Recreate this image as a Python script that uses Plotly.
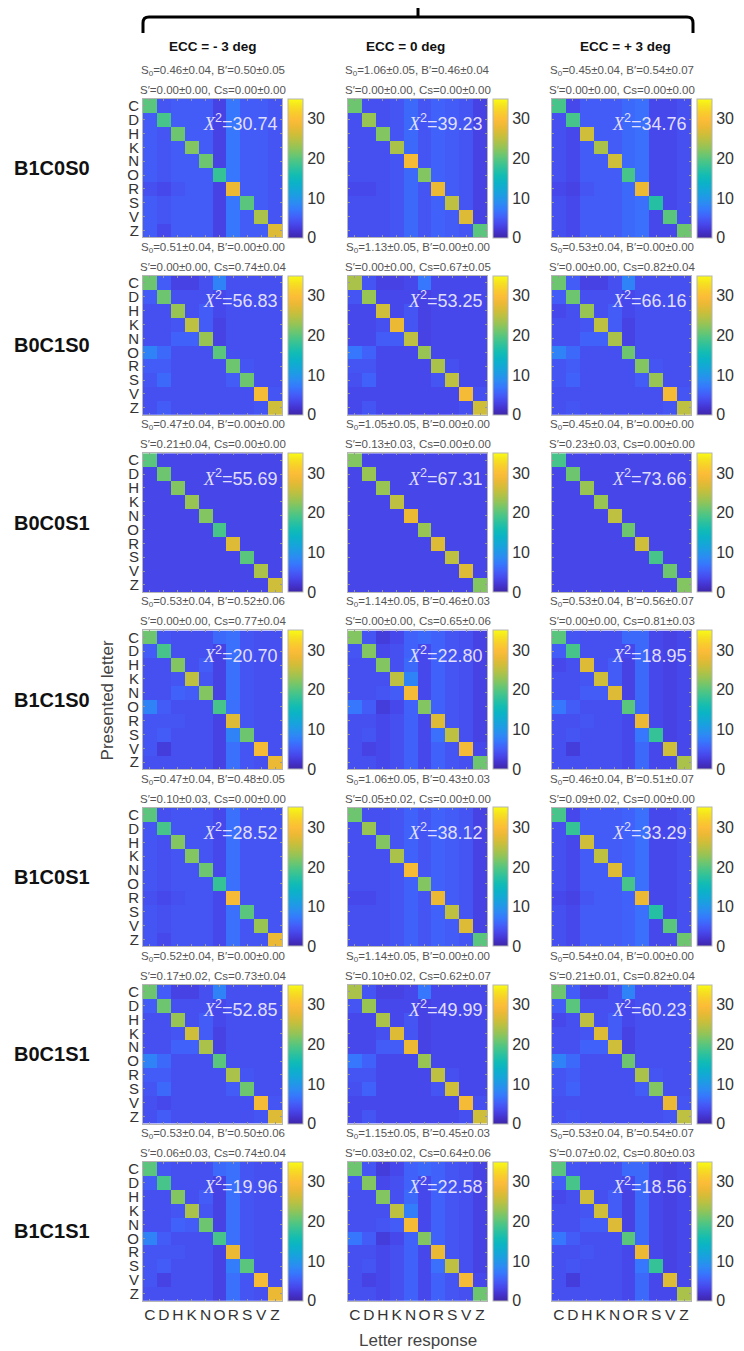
import plotly.graph_objects as go

W, H = 744, 1351
OFF = 8  # page body margin
FW, FH = W - OFF, H - OFF

letters = ["C", "D", "H", "K", "N", "O", "R", "S", "V", "Z"]
row_labels = ["B1C0S0", "B0C1S0", "B0C0S1", "B1C1S0", "B1C0S1", "B0C1S1", "B1C1S1"]
col_titles = ["ECC = - 3 deg", "ECC = 0 deg", "ECC = + 3 deg"]

chi2 = [[30.74, 39.23, 34.76], [56.83, 53.25, 66.16], [55.69, 67.31, 73.66],
        [20.70, 22.80, 18.95], [28.52, 38.12, 33.29], [52.85, 49.99, 60.23],
        [19.96, 22.58, 18.56]]
S0 = [[0.46, 1.06, 0.45], [0.51, 1.13, 0.53], [0.47, 1.05, 0.45], [0.53, 1.14, 0.53],
      [0.47, 1.06, 0.46], [0.52, 1.14, 0.54], [0.53, 1.15, 0.53]]
S0_err = [[0.04, 0.05, 0.04], [0.04, 0.05, 0.04], [0.04, 0.05, 0.04], [0.04, 0.05, 0.04],
          [0.04, 0.05, 0.04], [0.04, 0.05, 0.04], [0.04, 0.05, 0.04]]
Bp = [[0.50, 0.46, 0.54], [0.00, 0.00, 0.00], [0.00, 0.00, 0.00], [0.52, 0.46, 0.56],
      [0.48, 0.43, 0.51], [0.00, 0.00, 0.00], [0.50, 0.45, 0.54]]
Bp_err = [[0.05, 0.04, 0.07], [0.00, 0.00, 0.00], [0.00, 0.00, 0.00], [0.06, 0.03, 0.07],
          [0.05, 0.03, 0.07], [0.00, 0.00, 0.00], [0.06, 0.03, 0.07]]
Sp = [[0.00, 0.00, 0.00], [0.00, 0.00, 0.00], [0.21, 0.13, 0.23], [0.00, 0.00, 0.00],
      [0.10, 0.05, 0.09], [0.17, 0.10, 0.21], [0.06, 0.03, 0.07]]
Sp_err = [[0.00, 0.00, 0.00], [0.00, 0.00, 0.00], [0.04, 0.03, 0.03], [0.00, 0.00, 0.00],
          [0.03, 0.02, 0.02], [0.02, 0.02, 0.01], [0.03, 0.02, 0.02]]
Cs = [[0.00, 0.00, 0.00], [0.74, 0.67, 0.82], [0.00, 0.00, 0.00], [0.77, 0.65, 0.81],
      [0.00, 0.00, 0.00], [0.73, 0.62, 0.82], [0.74, 0.64, 0.80]]
Cs_err = [[0.00, 0.00, 0.00], [0.04, 0.05, 0.04], [0.00, 0.00, 0.00], [0.04, 0.06, 0.03],
          [0.00, 0.00, 0.00], [0.04, 0.07, 0.04], [0.04, 0.06, 0.03]]

# ---- confusion matrices (rows: presented letter, cols: letter response) ----
B1C0S0_m3 = [[20, 4.5, 5, 5, 5, 3, 7, 5, 5, 4.5],
             [5, 19, 5, 5, 5, 3, 7, 5, 5, 4.5],
             [5, 4.5, 21, 5, 5, 3, 7, 5, 5, 4.5],
             [5, 4.5, 5, 22, 5, 3, 7, 5, 5, 4.5],
             [5, 4.5, 5, 5, 21, 3, 7, 5, 5, 4.5],
             [5, 4.5, 5, 5, 5, 18, 7, 5, 5, 4.5],
             [4, 3.5, 4.5, 5, 5, 3, 28, 5, 5, 4.5],
             [5, 4.5, 5, 5, 5, 3, 7, 20, 5, 4.5],
             [5, 4.5, 5, 5, 5, 3, 7, 5, 24, 4.5],
             [5, 3.5, 5, 5, 5, 3, 7, 5, 5, 27]]
B1C0S0_0 = [[21, 4, 4, 4.5, 6, 4.5, 5.5, 5, 4.5, 3],
            [4, 23, 4, 4.5, 6, 4.5, 5.5, 5, 4.5, 3],
            [4, 4, 22, 4.5, 6, 4.5, 5.5, 5, 4.5, 3],
            [4, 4, 4, 24, 6, 4.5, 5.5, 5, 4.5, 3],
            [4, 4, 4, 4.5, 29, 4.5, 5.5, 5, 4.5, 3],
            [4, 4, 4, 4.5, 6, 22, 5.5, 5, 4.5, 3],
            [3.5, 3.5, 4, 4.5, 6, 4.5, 28, 5, 4.5, 3],
            [4, 4, 4, 4.5, 6, 4.5, 5.5, 25, 4.5, 3],
            [4, 4, 4, 4.5, 6, 4.5, 5.5, 5, 27, 3],
            [4, 4, 4, 4.5, 6, 4.5, 5.5, 5, 4.5, 20]]
B1C0S0_p3 = [[19, 3.5, 5, 5, 5, 6, 6.5, 3.5, 3.5, 4],
             [4, 19, 5, 5, 5, 6, 6.5, 3.5, 3.5, 4],
             [4, 3.5, 26, 5, 5, 6, 6.5, 3.5, 3.5, 4],
             [4, 3.5, 5, 24, 5, 6, 6.5, 3.5, 3.5, 4],
             [4, 3.5, 5, 5, 26, 6, 6.5, 3.5, 3.5, 4],
             [4, 3.5, 5, 5, 5, 19, 6.5, 3.5, 3.5, 4],
             [3.5, 3, 4.5, 5, 5, 6, 28, 3.5, 3.5, 4],
             [4, 3.5, 5, 5, 5, 6, 6.5, 17, 3.5, 4],
             [4, 3.5, 5, 5, 5, 6, 6.5, 3.5, 20, 4],
             [4, 3.5, 5, 5, 5, 6, 6.5, 3.5, 3.5, 21]]

B0C1S0_m3 = [[21, 5, 3, 3, 4, 8, 4, 4, 4, 4],
             [5, 21, 4, 4, 4, 3.5, 4, 4, 4, 4],
             [4, 4, 23, 4, 5, 3.5, 4, 4, 4, 4],
             [4, 4, 4.5, 25, 5, 3, 4, 4, 4, 4],
             [4, 4, 5.5, 5.5, 23, 3, 4, 4, 4, 4],
             [8, 6, 4, 4, 4, 20, 4, 4, 4, 4],
             [5, 5, 4, 4, 4, 4, 21, 4.5, 4, 4],
             [4.5, 6, 4, 4, 4, 4, 5, 21, 4, 4],
             [4, 4, 4, 4, 4, 4, 4, 4, 29, 4.5],
             [4, 5, 4, 4, 4, 4, 4, 4, 4.5, 26]]
B0C1S0_0 = [[24, 4.5, 3, 3, 3.5, 7, 3.5, 3.5, 3.5, 3.5],
            [4.5, 23, 3.5, 3.5, 3.5, 3, 3.5, 3.5, 3.5, 3.5],
            [3.5, 3.5, 26, 3.5, 4.5, 3, 3.5, 3.5, 3.5, 3.5],
            [3.5, 3.5, 4, 28, 4.5, 3, 3.5, 3.5, 3.5, 3.5],
            [3.5, 3.5, 5, 5, 25, 3, 3.5, 3.5, 3.5, 3.5],
            [7, 5.5, 3.5, 3.5, 3.5, 23, 3.5, 3.5, 3.5, 3.5],
            [4.5, 4.5, 3.5, 3.5, 3.5, 3.5, 24, 4, 3.5, 3.5],
            [4, 5.5, 3.5, 3.5, 3.5, 3.5, 4.5, 25, 3.5, 3.5],
            [3.5, 3.5, 3.5, 3.5, 3.5, 3.5, 3.5, 3.5, 29, 4],
            [3.5, 4.5, 3.5, 3.5, 3.5, 3.5, 3.5, 3.5, 4, 26]]
B0C1S0_p3 = [[21, 5, 3, 3, 4, 8, 4, 4, 4, 4],
             [5, 21, 4, 4, 4, 3.5, 4, 4, 4, 4],
             [3.5, 4, 23, 4, 5, 3.5, 4, 4, 4, 4],
             [4, 4, 4.5, 25, 5, 3, 4, 4, 4, 4],
             [4, 4, 5.5, 5.5, 24, 3, 4, 4, 4, 4],
             [8, 6, 4, 4, 4, 21, 4, 4, 4, 4],
             [4.5, 5, 4, 4, 4, 4, 22, 4.5, 4, 4],
             [4.5, 5.5, 4, 4, 4, 4, 5, 23, 4, 4],
             [4, 4, 4, 4, 4, 4, 4, 4, 29, 4.5],
             [4, 4.5, 4, 4, 4, 4, 4, 4, 4.5, 25]]

B0C0S1_m3 = [[20, 3.3, 3.3, 3.3, 3.3, 3.3, 3.3, 3.3, 3.3, 3.3],
             [3.3, 21, 3.3, 3.3, 3.3, 3.3, 3.3, 3.3, 3.3, 3.3],
             [3.3, 3.3, 22, 3.3, 3.3, 3.3, 3.3, 3.3, 3.3, 3.3],
             [3.3, 3.3, 3.3, 23, 3.3, 3.3, 3.3, 3.3, 3.3, 3.3],
             [3.3, 3.3, 3.3, 3.3, 22, 3.3, 3.3, 3.3, 3.3, 3.3],
             [3.3, 3.3, 3.3, 3.3, 3.3, 19, 3.3, 3.3, 3.3, 3.3],
             [3.3, 3.3, 3.3, 3.3, 3.3, 3.3, 27, 3.3, 3.3, 3.3],
             [3.3, 3.3, 3.3, 3.3, 3.3, 3.3, 3.3, 20, 3.3, 3.3],
             [3.3, 3.3, 3.3, 3.3, 3.3, 3.3, 3.3, 3.3, 24, 3.3],
             [3.3, 3.3, 3.3, 3.3, 3.3, 3.3, 3.3, 3.3, 3.3, 26]]
B0C0S1_0 = [[22, 3.3, 3.3, 3.3, 3.3, 3.3, 3.3, 3.3, 3.3, 3.3],
            [3.3, 23, 3.3, 3.3, 3.3, 3.3, 3.3, 3.3, 3.3, 3.3],
            [3.3, 3.3, 23, 3.3, 3.3, 3.3, 3.3, 3.3, 3.3, 3.3],
            [3.3, 3.3, 3.3, 25, 3.3, 3.3, 3.3, 3.3, 3.3, 3.3],
            [3.3, 3.3, 3.3, 3.3, 28, 3.3, 3.3, 3.3, 3.3, 3.3],
            [3.3, 3.3, 3.3, 3.3, 3.3, 23, 3.3, 3.3, 3.3, 3.3],
            [3.3, 3.3, 3.3, 3.3, 3.3, 3.3, 27, 3.3, 3.3, 3.3],
            [3.3, 3.3, 3.3, 3.3, 3.3, 3.3, 3.3, 25, 3.3, 3.3],
            [3.3, 3.3, 3.3, 3.3, 3.3, 3.3, 3.3, 3.3, 27, 3.3],
            [3.3, 3.3, 3.3, 3.3, 3.3, 3.3, 3.3, 3.3, 3.3, 22]]
B0C0S1_p3 = [[19, 3.3, 3.3, 3.3, 3.3, 3.3, 3.3, 3.3, 3.3, 3.3],
             [3.3, 21, 3.3, 3.3, 3.3, 3.3, 3.3, 3.3, 3.3, 3.3],
             [3.3, 3.3, 23, 3.3, 3.3, 3.3, 3.3, 3.3, 3.3, 3.3],
             [3.3, 3.3, 3.3, 23, 3.3, 3.3, 3.3, 3.3, 3.3, 3.3],
             [3.3, 3.3, 3.3, 3.3, 25, 3.3, 3.3, 3.3, 3.3, 3.3],
             [3.3, 3.3, 3.3, 3.3, 3.3, 21, 3.3, 3.3, 3.3, 3.3],
             [3.3, 3.3, 3.3, 3.3, 3.3, 3.3, 26, 3.3, 3.3, 3.3],
             [3.3, 3.3, 3.3, 3.3, 3.3, 3.3, 3.3, 19, 3.3, 3.3],
             [3.3, 3.3, 3.3, 3.3, 3.3, 3.3, 3.3, 3.3, 21, 3.3],
             [3.3, 3.3, 3.3, 3.3, 3.3, 3.3, 3.3, 3.3, 3.3, 22]]

B1C1S0_m3 = [[21, 4.5, 4, 4, 4, 6, 6.5, 4.5, 4, 4],
             [5, 19, 4, 4, 4, 3, 6.5, 4.5, 4, 4],
             [4, 4, 22, 4, 5, 3, 6.5, 4.5, 4, 4],
             [4, 4, 4.5, 25, 4.5, 3, 6.5, 4.5, 4, 4],
             [4, 4, 5.5, 5, 22, 3, 6.5, 4.5, 4, 4],
             [8, 5, 4, 4, 4, 19, 6.5, 4.5, 4, 4],
             [4.5, 4.5, 4.5, 4, 4, 3, 27, 4.5, 4, 4],
             [4.5, 5, 4, 4, 4, 3, 8, 21, 4, 4],
             [4.5, 2.5, 4, 4, 4, 3, 6.5, 4.5, 29, 4],
             [4, 4, 4, 4, 4, 3, 6.5, 4.5, 4, 28]]
B1C1S0_0 = [[22, 4.5, 2.5, 3.5, 5.5, 6, 5.5, 4.5, 4, 3],
            [4.5, 22, 3.5, 4, 5.5, 3.5, 5.5, 4.5, 4, 3],
            [4, 4, 22, 4, 6, 3.5, 5.5, 4.5, 4, 3],
            [4, 4, 4, 25, 8, 3.5, 5.5, 4.5, 4, 3],
            [4, 4, 4.5, 5, 29, 3.5, 5.5, 4.5, 4, 3],
            [7, 5, 2.5, 3.5, 5.5, 22, 5.5, 4.5, 4, 3],
            [4, 4, 3.5, 4, 5.5, 3.5, 27, 4.5, 4, 3],
            [4, 4.5, 3.5, 4, 5.5, 3.5, 6.5, 25, 4, 3],
            [4, 3, 3.5, 4, 5.5, 3.5, 5.5, 4.5, 29, 3.5],
            [4, 4, 3.5, 4, 5.5, 3.5, 5.5, 4.5, 4, 21]]
B1C1S0_p3 = [[20, 4.5, 4, 4, 4, 6, 6, 3.5, 3, 3.5],
             [5, 19, 4, 4, 4, 3.5, 6, 3.5, 3, 3.5],
             [3.5, 4, 27, 4, 5, 3, 6, 3.5, 3, 3.5],
             [4, 4, 4.5, 26, 5, 3, 6, 3.5, 3, 3.5],
             [4, 4, 5, 5, 27, 3, 6, 3.5, 3, 3.5],
             [7, 5, 4, 4, 4, 20, 6, 3.5, 3, 3.5],
             [4, 4, 4.5, 4, 4, 3.5, 28, 3.5, 3, 3.5],
             [4, 4.5, 4, 4, 4, 3.5, 7, 18, 3, 3.5],
             [4, 2.5, 4, 4, 4, 3.5, 6, 3.5, 26, 3.5],
             [4, 4, 4, 4, 4, 3.5, 6, 3.5, 3.5, 24]]

B1C0S1_m3 = [[20, 4, 4.5, 4.5, 4.5, 3.5, 6.5, 4.5, 4.5, 4.5],
             [4.5, 19, 4.5, 4.5, 4.5, 3.5, 6.5, 4.5, 4.5, 4.5],
             [4.5, 4, 22, 4.5, 4.5, 3.5, 6.5, 4.5, 4.5, 4.5],
             [4.5, 4, 4.5, 22, 4.5, 3.5, 6.5, 4.5, 4.5, 4.5],
             [4.5, 4, 4.5, 4.5, 21, 3.5, 6.5, 4.5, 4.5, 4.5],
             [4.5, 4, 4.5, 4.5, 4.5, 18, 6.5, 4.5, 4.5, 4.5],
             [4, 3.5, 4, 4.5, 4.5, 3.5, 29, 4.5, 4.5, 4.5],
             [4.5, 4, 4.5, 4.5, 4.5, 3.5, 6.5, 20, 4.5, 4.5],
             [4.5, 4, 4.5, 4.5, 4.5, 3.5, 6.5, 4.5, 23, 4.5],
             [4.5, 3.5, 4.5, 4.5, 4.5, 3.5, 6.5, 4.5, 4.5, 28]]
B1C0S1_0 = [[21, 4, 4, 4.5, 5.5, 4.5, 5.5, 5, 4.5, 3],
            [4, 23, 4, 4.5, 5.5, 4.5, 5.5, 5, 4.5, 3],
            [4, 4, 22, 4.5, 5.5, 4.5, 5.5, 5, 4.5, 3],
            [4, 4, 4, 24, 5.5, 4.5, 5.5, 5, 4.5, 3],
            [4, 4, 4, 4.5, 29, 4.5, 5.5, 5, 4.5, 3],
            [4, 4, 4, 4.5, 5.5, 22, 5.5, 5, 4.5, 3],
            [3.5, 3.5, 4, 4.5, 5.5, 4.5, 28, 5, 4.5, 3],
            [4, 4, 4, 4.5, 5.5, 4.5, 5.5, 25, 4.5, 3],
            [4, 4, 4, 4.5, 5.5, 4.5, 5.5, 5, 27, 3],
            [4, 4, 4, 4.5, 5.5, 4.5, 5.5, 5, 4.5, 20]]
B1C0S1_p3 = [[19, 3.5, 5, 5, 5, 5.5, 6.5, 3.5, 3.5, 4],
             [4, 18, 5, 5, 5, 5.5, 6.5, 3.5, 3.5, 4],
             [4, 3.5, 26, 5, 5, 5.5, 6.5, 3.5, 3.5, 4],
             [4, 3.5, 5, 25, 5, 5.5, 6.5, 3.5, 3.5, 4],
             [4, 3.5, 5, 5, 27, 5.5, 6.5, 3.5, 3.5, 4],
             [4, 3.5, 5, 5, 5, 19, 6.5, 3.5, 3.5, 4],
             [3.5, 3, 4.5, 5, 5, 5.5, 28, 3.5, 3.5, 4],
             [4, 3.5, 5, 5, 5, 5.5, 6.5, 17, 3.5, 4],
             [4, 3.5, 5, 5, 5, 5.5, 6.5, 3.5, 20, 4],
             [4, 3.5, 5, 5, 5, 5.5, 6.5, 3.5, 3.5, 21]]

B0C1S1_m3 = [[21, 5, 3, 3, 4, 8, 4, 4, 4, 4],
             [5, 21, 4, 4, 4, 3.5, 4, 4, 4, 4],
             [4, 4, 23, 4, 5, 3.5, 4, 4, 4, 4],
             [4, 4, 4.5, 26, 5, 3, 4, 4, 4, 4],
             [4, 4, 5.5, 5.5, 24, 3, 4, 4, 4, 4],
             [8, 6, 4, 4, 4, 20, 4, 4, 4, 4],
             [5, 5, 4, 4, 4, 4, 24, 4.5, 4, 4],
             [4.5, 6, 4, 4, 4, 4, 5, 21, 4, 4],
             [4, 3.5, 4, 4, 4, 4, 4, 4, 29, 4.5],
             [4, 5, 4, 4, 4, 4, 4, 4, 4.5, 27]]
B0C1S1_0 = [[24, 4.5, 3, 3, 3.5, 7, 3.5, 3.5, 3.5, 3.5],
            [4.5, 23, 3.5, 3.5, 3.5, 3, 3.5, 3.5, 3.5, 3.5],
            [3.5, 3.5, 24, 3.5, 4.5, 3, 3.5, 3.5, 3.5, 3.5],
            [3.5, 3.5, 4, 27, 4.5, 3, 3.5, 3.5, 3.5, 3.5],
            [3.5, 3.5, 5, 5, 28, 3, 3.5, 3.5, 3.5, 3.5],
            [7, 5.5, 3.5, 3.5, 3.5, 23, 3.5, 3.5, 3.5, 3.5],
            [4.5, 4.5, 3.5, 3.5, 3.5, 3.5, 25, 4, 3.5, 3.5],
            [4, 5.5, 3.5, 3.5, 3.5, 3.5, 4.5, 26, 3.5, 3.5],
            [3.5, 3.5, 3.5, 3.5, 3.5, 3.5, 3.5, 3.5, 29, 4],
            [3.5, 4.5, 3.5, 3.5, 3.5, 3.5, 3.5, 3.5, 4, 26]]
B0C1S1_p3 = [[21, 5, 3, 3, 4, 8, 4, 4, 4, 4],
             [5, 20, 4, 4, 4, 3.5, 4, 4, 4, 4],
             [3.5, 4, 25, 4, 5, 3.5, 4, 4, 4, 4],
             [4, 4, 4.5, 27, 5, 3, 4, 4, 4, 4],
             [4, 4, 5.5, 5.5, 26, 3, 4, 4, 4, 4],
             [8, 6, 4, 4, 4, 21, 4, 4, 4, 4],
             [4.5, 5, 4, 4, 4, 4, 24, 4.5, 4, 4],
             [4.5, 5.5, 4, 4, 4, 4, 5, 22, 4, 4],
             [4, 4, 4, 4, 4, 4, 4, 4, 28, 4.5],
             [4, 4.5, 4, 4, 4, 4, 4, 4, 4.5, 25]]

B1C1S1_m3 = [[20, 4.5, 4, 4, 4, 6, 6.5, 4.5, 4, 4],
             [5, 19, 4, 4, 4, 3, 6.5, 4.5, 4, 4],
             [4, 4, 22, 4, 5, 3, 6.5, 4.5, 4, 4],
             [4, 4, 4.5, 24, 4.5, 3, 6.5, 4.5, 4, 4],
             [4, 4, 5.5, 5, 21, 3, 6.5, 4.5, 4, 4],
             [8, 5, 4, 4, 4, 19, 6.5, 4.5, 4, 4],
             [4.5, 4.5, 4.5, 4, 4, 3, 28, 4.5, 4, 4],
             [4.5, 5, 4, 4, 4, 3, 7.5, 20, 4, 4],
             [4.5, 3, 4, 4, 4, 3, 6.5, 4.5, 29, 4],
             [4, 4, 4, 4, 4, 3, 6.5, 4.5, 4, 28]]
B1C1S1_0 = [[21, 4.5, 2.5, 3.5, 5.5, 6, 5.5, 4.5, 4, 3],
            [4.5, 22, 3.5, 4, 5.5, 3.5, 5.5, 4.5, 4, 3],
            [4, 4, 22, 4, 6, 3.5, 5.5, 4.5, 4, 3],
            [4, 4, 4, 25, 7.5, 3.5, 5.5, 4.5, 4, 3],
            [4, 4, 4.5, 5, 29, 3.5, 5.5, 4.5, 4, 3],
            [7, 5, 2.5, 3.5, 5.5, 22, 5.5, 4.5, 4, 3],
            [4, 4, 3.5, 4, 5.5, 3.5, 28, 4.5, 4, 3],
            [4, 4.5, 3.5, 4, 5.5, 3.5, 6.5, 25, 4, 3],
            [4, 3, 3.5, 4, 5.5, 3.5, 5.5, 4.5, 29, 3.5],
            [4, 4, 3.5, 4, 5.5, 3.5, 5.5, 4.5, 4, 21]]
B1C1S1_p3 = [[20, 4.5, 4, 4, 4, 6, 6, 3.5, 3, 3.5],
             [5, 19, 4, 4, 4, 3.5, 6, 3.5, 3, 3.5],
             [3.5, 4, 26, 4, 5, 3, 6, 3.5, 3, 3.5],
             [4, 4, 4.5, 26, 5, 3, 6, 3.5, 3, 3.5],
             [4, 4, 5, 5, 27, 3, 6, 3.5, 3, 3.5],
             [7, 5, 4, 4, 4, 20, 6, 3.5, 3, 3.5],
             [4, 4, 4.5, 4, 4, 3.5, 28, 3.5, 3, 3.5],
             [4, 4.5, 4, 4, 4, 3.5, 7, 18, 3, 3.5],
             [4, 2.5, 4, 4, 4, 3.5, 6, 3.5, 27, 3.5],
             [4, 4, 4, 4, 4, 3.5, 6, 3.5, 3.5, 24]]

grid = [[B1C0S0_m3, B1C0S0_0, B1C0S0_p3],
        [B0C1S0_m3, B0C1S0_0, B0C1S0_p3],
        [B0C0S1_m3, B0C0S1_0, B0C0S1_p3],
        [B1C1S0_m3, B1C1S0_0, B1C1S0_p3],
        [B1C0S1_m3, B1C0S1_0, B1C0S1_p3],
        [B0C1S1_m3, B0C1S1_0, B0C1S1_p3],
        [B1C1S1_m3, B1C1S1_0, B1C1S1_p3]]

parula = [[0.0, '#3e26a8'], [0.05, '#4433d0'], [0.1, '#4748ec'], [0.15, '#435ff9'],
          [0.2, '#3677fd'], [0.25, '#2c8bf3'], [0.3, '#1e9be5'], [0.35, '#13a8d6'],
          [0.4, '#0bb3c6'], [0.45, '#12bcb3'], [0.5, '#2cc19e'], [0.55, '#4ac587'],
          [0.6, '#6dc66f'], [0.65, '#93c457'], [0.7, '#b4c145'], [0.75, '#d2bd38'],
          [0.8, '#ecb935'], [0.85, '#fcbc38'], [0.9, '#f9cc2c'], [0.95, '#f6e120'],
          [1.0, '#f9fb15']]

FONT = "Liberation Sans, Arial, sans-serif"
col_left = [143, 348, 552]
pw, ph = 139, 139
top0, pitch = 97, 177.6


def px(x):
    return (x - OFF) / FW


def py(y):
    return 1 - (y - OFF) / FH


fig = go.Figure()
layout = {}
annotations = []
for r in range(7):
    for c in range(3):
        k = r * 3 + c + 1
        xl = col_left[c]
        top = top0 + r * pitch
        xa = "x" if k == 1 else f"x{k}"
        ya = "y" if k == 1 else f"y{k}"
        fig.add_trace(go.Heatmap(
            z=grid[r][c], x=letters, y=letters, xaxis=xa, yaxis=ya,
            colorscale=parula, zmin=0, zmax=35,
            colorbar=dict(x=px(xl + pw + 6), xanchor="left", y=py(top + ph / 2),
                          yanchor="middle", len=ph / FH, lenmode="fraction",
                          thickness=15, xpad=0, ypad=0, outlinewidth=1,
                          outlinecolor="#b5b5b5", tickvals=[0, 10, 20, 30],
                          ticks="", tickfont=dict(size=16, color="#333", family=FONT)),
            hoverinfo="skip"))
        layout["xaxis" if k == 1 else f"xaxis{k}"] = dict(
            domain=[px(xl), px(xl + pw)], anchor=ya, type="category",
            tickmode="array", tickvals=letters, ticktext=letters, tickangle=0,
            showticklabels=(r == 6), tickfont=dict(size=15.5, color="#333", family=FONT),
            ticks="inside", ticklen=2, tickcolor="#999", showline=True,
            linecolor="#b5b5b5", mirror="ticks", showgrid=False, zeroline=False,
            fixedrange=True)
        layout["yaxis" if k == 1 else f"yaxis{k}"] = dict(
            domain=[py(top + ph), py(top)], anchor=xa, type="category",
            tickmode="array", tickvals=letters, ticktext=letters,
            autorange="reversed", showticklabels=(c == 0),
            tickfont=dict(size=15, color="#333", family=FONT),
            ticks="inside", ticklen=2, tickcolor="#999", showline=True,
            linecolor="#b5b5b5", mirror="ticks", showgrid=False, zeroline=False,
            fixedrange=True)
        cx = xl + pw / 2
        annotations.append(dict(
            x=px(cx), y=py(top - 28), xref="paper", yref="paper", showarrow=False,
            text=f"S<sub>0</sub>={S0[r][c]:.2f}±{S0_err[r][c]:.2f}, B′={Bp[r][c]:.2f}±{Bp_err[r][c]:.2f}",
            font=dict(size=11.5, color="#555", family=FONT), xanchor="center", yanchor="middle"))
        annotations.append(dict(
            x=px(cx), y=py(top - 9), xref="paper", yref="paper", showarrow=False,
            text=f"S′={Sp[r][c]:.2f}±{Sp_err[r][c]:.2f}, Cs={Cs[r][c]:.2f}±{Cs_err[r][c]:.2f}",
            font=dict(size=11.5, color="#555", family=FONT), xanchor="center", yanchor="middle"))
        annotations.append(dict(
            x=px(xl + pw - 2), y=py(top + 24), xref="paper", yref="paper", showarrow=False,
            text=f"<span style='font-family:Liberation Serif'><i>X</i></span><sup>2</sup>={chi2[r][c]:.2f}",
            font=dict(size=18, color="rgba(236,232,255,0.95)", family=FONT),
            xanchor="right", yanchor="middle"))
    annotations.append(dict(
        x=px(12), y=py(top0 + r * pitch + ph / 2), xref="paper", yref="paper",
        showarrow=False, text=f"<b>{row_labels[r]}</b>", xanchor="left", yanchor="middle",
        font=dict(size=20, color="#111", family=FONT)))

title_x = [212, 405, 625]
for c in range(3):
    annotations.append(dict(
        x=px(title_x[c]), y=py(45), xref="paper", yref="paper", showarrow=False,
        text=f"<b>{col_titles[c]}</b>", xanchor="center", yanchor="middle",
        font=dict(size=13.5, color="#111", family=FONT)))

annotations.append(dict(x=px(107), y=py(700), xref="paper", yref="paper", showarrow=False,
                        text="Presented letter", textangle=-90, xanchor="center",
                        yanchor="middle", font=dict(size=17, color="#444", family=FONT)))
annotations.append(dict(x=px(418), y=py(1341), xref="paper", yref="paper", showarrow=False,
                        text="Letter response", xanchor="center", yanchor="middle",
                        font=dict(size=17, color="#444", family=FONT)))


def pt(x, y):
    return f"{px(x):.5f},{py(y):.5f}"


bracket = (f"M {pt(143, 31)} L {pt(143, 21)} Q {pt(143, 15)} {pt(149, 15)} "
           f"L {pt(687, 15)} Q {pt(693, 15)} {pt(693, 21)} L {pt(693, 31)}")
stem = f"M {pt(418, 15)} L {pt(418, 0)}"
shapes = [dict(type="path", path=bracket, xref="paper", yref="paper",
               line=dict(color="black", width=3)),
          dict(type="path", path=stem, xref="paper", yref="paper",
               line=dict(color="black", width=3))]

fig.update_layout(width=FW, height=FH, autosize=False,
                  margin=dict(l=0, r=0, t=0, b=0),
                  paper_bgcolor="white", plot_bgcolor="white",
                  font=dict(family=FONT), annotations=annotations, shapes=shapes,
                  showlegend=False, **layout)

fig.write_html("out.html", config={"displayModeBar": False})
